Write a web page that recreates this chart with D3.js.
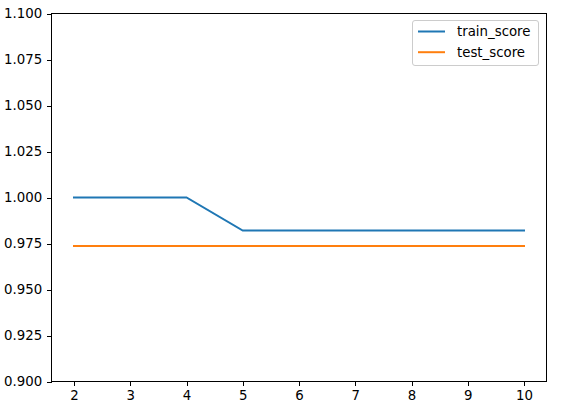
<!DOCTYPE html>
<html><head><meta charset="utf-8">
<script src="https://cdn.jsdelivr.net/npm/d3@7"></script>
<style>body{margin:0;background:#fff;} svg{display:block;} text{font-family:"DejaVu Sans",sans-serif;}</style>
</head><body>
<svg id="c" width="567" height="412"></svg>
<script>
const xValues = [2,3,4,5,6,7,8,9,10];
const trainScore = [1.0,1.0,1.0,0.982,0.982,0.982,0.982,0.982,0.982];
const testScore = [0.9737,0.9737,0.9737,0.9737,0.9737,0.9737,0.9737,0.9737,0.9737];
const seriesNames = ["train_score","test_score"];
const colors = ["#1f77b4","#ff7f0e"];
const yTicks = [0.9,0.925,0.95,0.975,1.0,1.025,1.05,1.075,1.1];
const xTicks = [2,3,4,5,6,7,8,9,10];

const svg = d3.select("#c");
const L=51.5,R=546.5,T=13.5,B=381.5;
const x = d3.scaleLinear().domain([1.6,10.4]).range([L,R]);
const y = d3.scaleLinear().domain([0.9,1.1]).range([B,T]);
const fs = "13.33px";

const xa = svg.append("g").attr("transform",`translate(0,${B})`)
  .call(d3.axisBottom(x).tickValues(xTicks).tickFormat(d3.format("d")).tickSize(4.67).tickPadding(4.67).tickSizeOuter(0));
const ya = svg.append("g").attr("transform",`translate(${L},0)`)
  .call(d3.axisLeft(y).tickValues(yTicks).tickFormat(d3.format(".3f")).tickSize(4.67).tickPadding(4.67).tickSizeOuter(0));
[xa,ya].forEach(a=>{
  a.select(".domain").remove();
  a.selectAll("line").attr("stroke","#000").attr("stroke-width",1).attr("shape-rendering","crispEdges");
  a.selectAll("text").style("font-size",fs).attr("fill","#000").style("font-family","'DejaVu Sans',sans-serif");
});

const line = d3.line().x((d,i)=>x(xValues[i])).y(d=>y(d));
[trainScore,testScore].forEach((s,k)=>{
  svg.append("path").datum(s).attr("d",line).attr("fill","none")
    .attr("stroke",colors[k]).attr("stroke-width",2).attr("stroke-linecap","square");
});

svg.append("rect").attr("x",L).attr("y",T).attr("width",R-L).attr("height",B-T)
  .attr("fill","none").attr("stroke","#000").attr("stroke-width",1).attr("shape-rendering","crispEdges");

// legend
const lg = svg.append("g");
lg.append("rect").attr("x",412.5).attr("y",20.5).attr("width",126).attr("height",45)
  .attr("rx",2.5).attr("fill","#fff").attr("fill-opacity",0.8).attr("stroke","#cccccc").attr("stroke-width",1);
seriesNames.forEach((n,i)=>{
  const yy = 31.5 + i*20.7;
  lg.append("line").attr("x1",418).attr("x2",445).attr("y1",yy).attr("y2",yy)
    .attr("stroke",colors[i]).attr("stroke-width",2);
  lg.append("text").attr("x",457).attr("y",yy).attr("dy","0.35em").style("font-size",fs).attr("fill","#000").text(n);
});
</script>
</body></html>
